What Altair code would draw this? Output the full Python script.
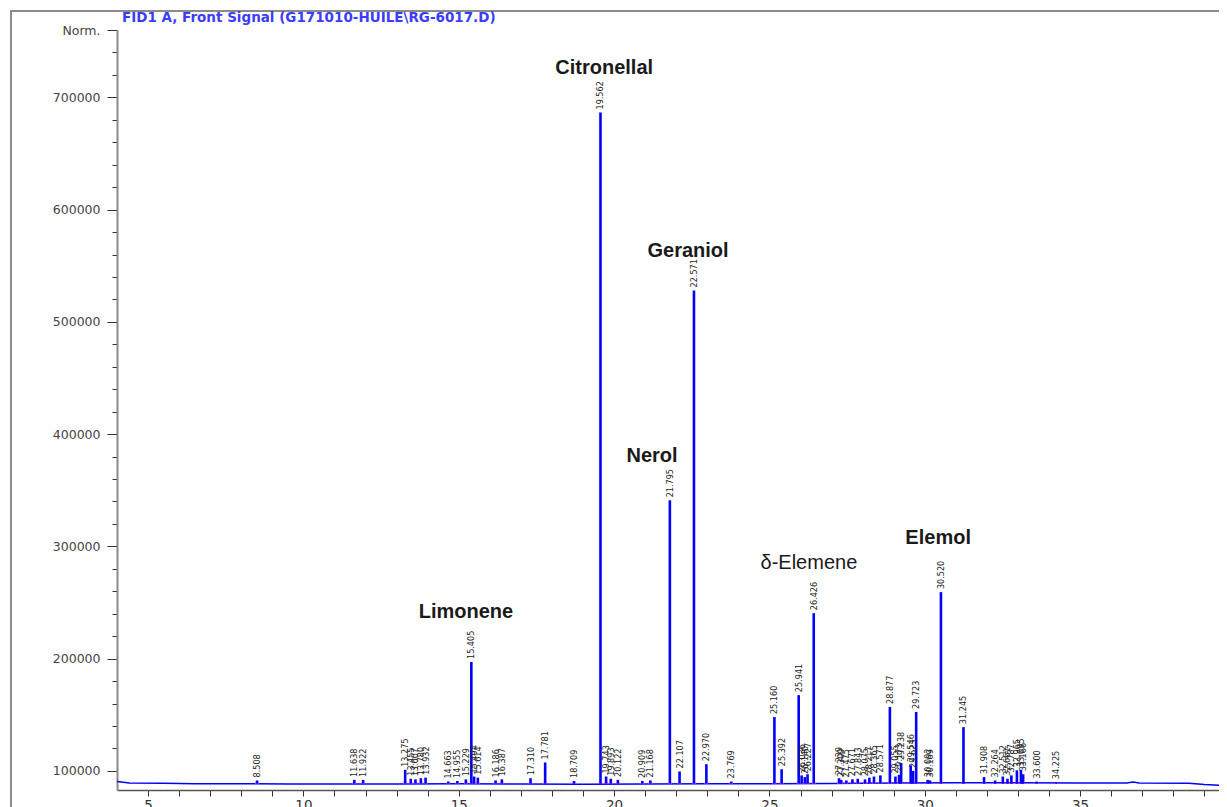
import altair as alt
import pandas as pd

# ---------------- data ----------------
peak_rt = [8.508, 11.638, 11.922, 13.275, 13.455, 13.607, 13.780, 13.932, 14.663, 14.955,
           15.229, 15.405, 15.494, 15.614, 16.186, 16.387, 17.310, 17.781, 18.709, 19.562,
           19.743, 19.893, 20.122, 20.909, 21.168, 21.795, 22.107, 22.571, 22.970, 23.769,
           25.160, 25.392, 25.941, 26.036, 26.140, 26.227, 26.426, 27.239, 27.309, 27.475,
           27.671, 27.843, 28.075, 28.217, 28.365, 28.571, 28.877, 29.055, 29.173, 29.238,
           29.546, 29.623, 29.723, 30.092, 30.169, 30.520, 31.245, 31.908, 32.264, 32.512,
           32.661, 32.787, 32.965, 33.095, 33.166, 33.600, 34.225]
peak_label = ["8.508", "11.638", "11.922", "13.275", "13.455", "13.607", "13.780", "13.932", "14.663", "14.955",
              "15.229", "15.405", "15.494", "15.614", "16.186", "16.387", "17.310", "17.781", "18.709", "19.562",
              "19.743", "19.893", "20.122", "20.909", "21.168", "21.795", "22.107", "22.571", "22.970", "23.769",
              "25.160", "25.392", "25.941", "26.036", "26.140", "26.227", "26.426", "27.239", "27.309", "27.475",
              "27.671", "27.843", "28.075", "28.217", "28.365", "28.571", "28.877", "29.055", "29.173", "29.238",
              "29.546", "29.623", "29.723", "30.092", "30.169", "30.520", "31.245", "31.908", "32.264", "32.512",
              "32.661", "32.787", "32.965", "33.095", "33.166", "33.600", "34.225"]
peak_height = [91500, 92000, 92000, 101000, 93000, 92500, 93500, 94000, 90500, 91000,
               92500, 197000, 95000, 94000, 91500, 92500, 93500, 107500, 91000, 686500,
               95000, 93000, 92000, 91000, 91500, 341000, 99500, 528000, 106000, 90500,
               148000, 101500, 167500, 96000, 94500, 97000, 240500, 93500, 92000, 91500,
               92500, 93000, 92500, 94000, 95000, 96000, 157000, 95000, 96500, 107000,
               105000, 100000, 152500, 92000, 91500, 259300, 139000, 94500, 91500, 95000,
               93000, 96000, 100500, 101000, 97000, 90500, 90000]

base_time = [4.0, 4.4, 5.5, 6.5, 8.0, 9.5, 11.0, 13.0, 15.0, 17.0, 19.0, 21.0, 23.0, 25.0,
             27.0, 29.0, 31.0, 33.0, 35.0, 36.5, 36.7, 36.9, 38.5, 39.0, 39.47]
base_signal = [90500, 89300, 89000, 88500, 88500, 88400, 88300, 88400, 88600, 88400, 88200,
               88300, 88600, 88600, 88900, 89200, 89500, 89500, 89300, 89200, 90200, 89300,
               89000, 87800, 87300]

compound_name = ["Citronellal", "Geraniol", "Nerol", "Limonene", "Elemol", "δ-Elemene"]
compound_time = [19.68, 22.38, 21.22, 15.23, 30.43, 26.27]
compound_signal = [725800, 563500, 380400, 241500, 307400, 285200]
compound_weight = ["bold", "bold", "bold", "bold", "bold", "normal"]

title_text = "FID1 A, Front Signal (G171010-HUILE\\RG-6017.D)"
x_ticks = list(range(5, 40))
y_ticks = list(range(100000, 760001, 20000))

X_DOMAIN = [4.0, 39.47]
Y_DOMAIN = [83000, 760000]

peaks = pd.DataFrame({"rt": peak_rt, "h": peak_height, "label": peak_label})
base = pd.DataFrame({"t": base_time, "v": base_signal})
comp = pd.DataFrame({"name": compound_name, "t": compound_time, "v": compound_signal,
                     "w": compound_weight})

BLUE = "#0000ff"
COND_FONT = "Liberation Sans Narrow, DejaVu Sans Condensed, Roboto Condensed, Arial Narrow, sans-serif"

xs = alt.Scale(domain=X_DOMAIN, nice=False, zero=False)
ys = alt.Scale(domain=Y_DOMAIN, nice=False, zero=False)

x_axis = alt.Axis(values=x_ticks, labelExpr="datum.value % 5 === 0 ? '' + datum.value : ''",
                  title=None, grid=False, tickSize=6, tickColor="#333333", domainColor="#555555",
                  domainWidth=1.5, labelFont="DejaVu Sans", labelFontSize=13.5, labelColor="#333333",
                  labelPadding=2, labelFlush=False, labelOverlap=False)
y_axis = alt.Axis(values=y_ticks,
                  labelExpr="datum.value === 760000 ? 'Norm.' : (datum.value % 100000 === 0 ? format(datum.value, 'd') : '')",
                  title=None, grid=False,
                  tickSize={"condition": {"test": "datum.value % 100000 === 0 || datum.value === 760000", "value": 10}, "value": 5},
                  tickColor="#333333", domainColor="#8a8a8a", domainWidth=2,
                  labelFont="DejaVu Sans", labelFontSize=12.5, labelColor="#444444",
                  labelPadding=7, labelFlush=False, labelOverlap=False)


def X(field):
    return alt.X(field, scale=xs, axis=x_axis)


def Y(field):
    return alt.Y(field, scale=ys, axis=y_axis)


frame = alt.Chart(alt.Data(values=[{}])).mark_rect(
    fillOpacity=0, stroke="#8c8c8c", strokeWidth=2
).encode(x=alt.value(-106), x2=alt.value(1300), y=alt.value(-19), y2=alt.value(900))

title = alt.Chart(alt.Data(values=[{"txt": title_text}])).mark_text(
    align="left", baseline="alphabetic", font="DejaVu Sans", fontSize=13.5,
    fontWeight="bold", color="#3c3cff"
).encode(x=alt.value(5), y=alt.value(-8), text="txt:N")

baseline = alt.Chart(base).mark_line(color=BLUE, strokeWidth=1.5).encode(
    x=X("t:Q"), y=Y("v:Q"),
)

pink = alt.Chart(peaks).transform_calculate(
    a="datum.rt - 0.06", b="datum.rt + 0.06"
).mark_rule(color="#ff44ff", strokeWidth=1.5).encode(
    x=X("a:Q"), x2="b:Q", y=alt.datum(89000, scale=ys, axis=y_axis)
)

rules = alt.Chart(peaks).mark_rule(color=BLUE, strokeWidth=2.6).encode(
    x=X("rt:Q"), y=Y("h:Q"), y2=alt.datum(88600),
)

labels = alt.Chart(peaks).mark_text(
    angle=270, align="left", baseline="middle", dx=3, font=COND_FONT, fontSize=9,
    color="#222222"
).encode(x=X("rt:Q"), y=Y("h:Q"), text="label:N")

comp_bold = alt.Chart(comp).transform_filter("datum.w === 'bold'").mark_text(
    font="Liberation Sans", fontSize=20, fontWeight="bold", color="#1a1a1a",
    align="center", baseline="middle"
).encode(x=X("t:Q"), y=Y("v:Q"), text="name:N")

comp_norm = alt.Chart(comp).transform_filter("datum.w === 'normal'").mark_text(
    font="Liberation Sans", fontSize=20, fontWeight="normal", color="#1a1a1a",
    align="center", baseline="middle"
).encode(x=X("t:Q"), y=Y("v:Q"), text="name:N")

chart = alt.layer(frame, title, baseline, pink, rules, labels, comp_bold, comp_norm).properties(
    width=1102, height=760,
    autosize=alt.AutoSizeParams(type="none"),
    padding={"left": 109, "top": 22, "right": 0, "bottom": 17},
).configure_view(strokeWidth=0).configure_axis(labelOverlap=False)

chart.save("out.html", embed_options={"renderer": "svg", "actions": False})
